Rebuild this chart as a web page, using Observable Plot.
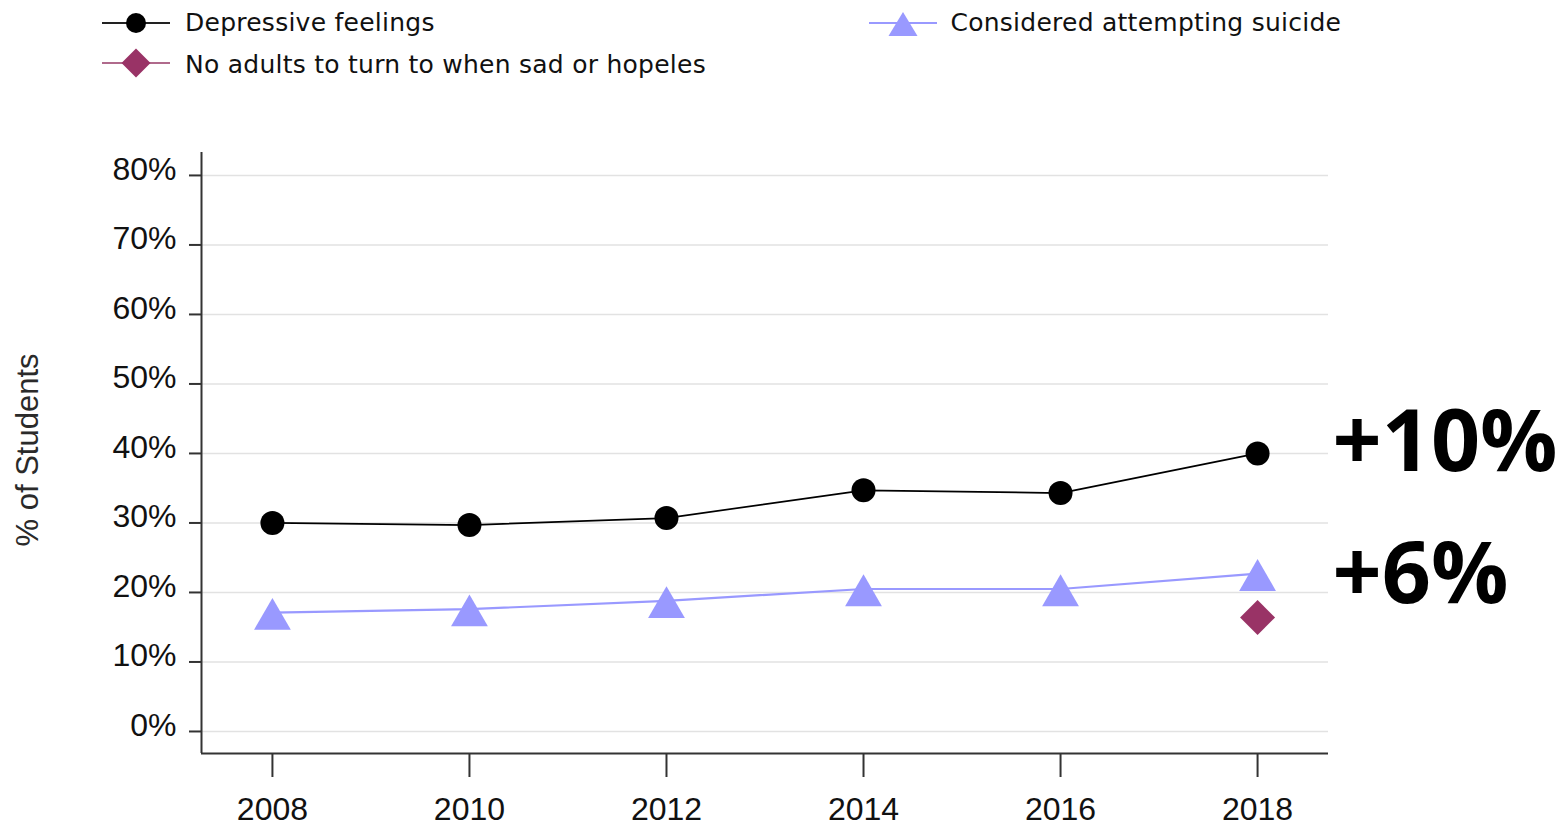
<!DOCTYPE html>
<html>
<head>
<meta charset="utf-8">
<script src="https://cdn.jsdelivr.net/npm/d3@7"></script>
<script src="https://cdn.jsdelivr.net/npm/@observablehq/plot@0.6"></script>
<style>
  html, body { margin: 0; padding: 0; background: #fff; overflow: hidden; }
  #legend { position: relative; width: 1566px; height: 100px; font-family: "DejaVu Sans", Verdana, sans-serif; font-size: 25px; letter-spacing: 0.25px; color: #111; }
  #legend .sym { position: absolute; }
  #legend .lab { position: absolute; line-height: 40px; height: 40px; white-space: nowrap; }
</style>
</head>
<body>
<div id="legend"></div>
<div id="chart"></div>
<script>
// ---- data ----
const years = [2008, 2010, 2012, 2014, 2016, 2018];
const depressive = [30.0, 29.7, 30.7, 34.7, 34.3, 40.0];
const suicide = [17.1, 17.6, 18.8, 20.5, 20.5, 22.7];
const noAdults = [null, null, null, null, null, 16.4];
const seriesNames = ["Depressive feelings", "No adults to turn to when sad or hopeles", "Considered attempting suicide"];
const changeLabels = ["+10%", "+6%"];
const yTicks = [0, 10, 20, 30, 40, 50, 60, 70, 80];
const xTicks = [2008, 2010, 2012, 2014, 2016, 2018];
const yAxisTitle = "% of Students";

// ---- styles ----
const colors = {dep: "#000000", sui: "#9999ff", noa: "#993366"};
const xDomain = [2007.28, 2018.72];
const yDomain = [-3.17, 83.3];

const triangleUp = {
  draw(ctx, size) {
    const r = Math.sqrt(size / Math.PI);
    const h = r * Math.sqrt(3);
    ctx.moveTo(0, -0.46 * h);
    ctx.lineTo(r, 0.54 * h);
    ctx.lineTo(-r, 0.54 * h);
    ctx.closePath();
  }
};
const diamondSq = {
  draw(ctx, size) {
    const r = Math.sqrt(size / Math.PI);
    ctx.moveTo(0, -r);
    ctx.lineTo(r, 0);
    ctx.lineTo(0, r);
    ctx.lineTo(-r, 0);
    ctx.closePath();
  }
};

// ---- legend ----
const legendItems = [
  {name: seriesNames[0], sym: "circle", color: colors.dep, line: "#222", left: 102, top: 3.3},
  {name: seriesNames[1], sym: "diamond", color: colors.noa, line: "#b06a8c", left: 102, top: 43.3},
  {name: seriesNames[2], sym: "triangle", color: colors.sui, line: colors.sui, left: 869, top: 2.7}
];
const legend = document.getElementById("legend");
const NS = "http://www.w3.org/2000/svg";
for (const it of legendItems) {
  const svg = document.createElementNS(NS, "svg");
  svg.setAttribute("width", 68); svg.setAttribute("height", 40);
  svg.setAttribute("class", "sym");
  svg.style.left = it.left + "px"; svg.style.top = it.top + "px";
  const ln = document.createElementNS(NS, "line");
  ln.setAttribute("x1", 0); ln.setAttribute("x2", 68); ln.setAttribute("y1", 20); ln.setAttribute("y2", 20);
  ln.setAttribute("stroke", it.line); ln.setAttribute("stroke-width", 2);
  svg.appendChild(ln);
  let shape;
  if (it.sym === "circle") {
    shape = document.createElementNS(NS, "circle");
    shape.setAttribute("cx", 34); shape.setAttribute("cy", 20); shape.setAttribute("r", 10);
  } else if (it.sym === "diamond") {
    shape = document.createElementNS(NS, "path");
    shape.setAttribute("d", "M34,5.5L48.5,20L34,34.5L19.5,20Z");
  } else {
    shape = document.createElementNS(NS, "path");
    shape.setAttribute("d", "M34,9L48.5,33L19.5,33Z");
  }
  shape.setAttribute("fill", it.color);
  svg.appendChild(shape);
  legend.appendChild(svg);
  const lab = document.createElement("div");
  lab.className = "lab";
  lab.textContent = it.name;
  lab.style.left = (it.left + (it.sym === "triangle" ? 81.5 : 83)) + "px";
  lab.style.top = (it.top + (it.sym === "diamond" ? 1.5 : 0)) + "px";
  legend.appendChild(lab);
}

// ---- chart ----
const depRows = years.map((yr, i) => ({year: yr, value: depressive[i]}));
const suiRows = years.map((yr, i) => ({year: yr, value: suicide[i]}));
const noaRows = years.map((yr, i) => ({year: yr, value: noAdults[i]})).filter(d => d.value != null);
const lastDep = [{year: years[years.length - 1], value: depressive[depressive.length - 1], label: changeLabels[0]}];
const lastSui = [{year: years[years.length - 1], value: suicide[suicide.length - 1], label: changeLabels[1]}];

const axisFont = "Liberation Sans, Arial, sans-serif";

const chart = Plot.plot({
  width: 1566,
  height: 723,
  marginTop: 52,
  marginBottom: 70,
  marginLeft: 201,
  marginRight: 238,
  style: {background: "white", fontFamily: axisFont},
  x: {domain: xDomain},
  y: {domain: yDomain},
  marks: [
    Plot.gridY(yTicks, {stroke: "#e2e2e2", strokeOpacity: 1, strokeWidth: 1.5}),
    Plot.axisY(yTicks, {tickSize: 12, tickFormat: () => "", stroke: "#333", strokeWidth: 2, label: null}),
    Plot.axisX(xTicks, {tickSize: 24, tickFormat: () => "", stroke: "#333", strokeWidth: 2, label: null}),
    Plot.ruleX([xDomain[0]], {stroke: "#333", strokeWidth: 2}),
    Plot.ruleY([yDomain[0]], {stroke: "#333", strokeWidth: 2}),
    Plot.text(yTicks, {frameAnchor: "left", y: d => d, text: d => d + "%", textAnchor: "end", lineAnchor: "middle", dx: -25, dy: -6, fontSize: 32, fontFamily: axisFont, fill: "#111"}),
    Plot.text(xTicks, {frameAnchor: "bottom", x: d => d, text: d => String(d), textAnchor: "middle", lineAnchor: "top", dy: 44, fontSize: 32, fontFamily: axisFont, fill: "#111"}),
    Plot.text([yAxisTitle], {frameAnchor: "left", text: d => d, rotate: -90, textAnchor: "middle", dx: -173, dy: -3, fontSize: 31, fontFamily: axisFont, fill: "#2a2a2a", lineAnchor: "middle"}),
    Plot.line(suiRows, {x: "year", y: "value", stroke: colors.sui, strokeWidth: 2.2}),
    Plot.line(depRows, {x: "year", y: "value", stroke: colors.dep, strokeWidth: 1.7}),
    Plot.dot(suiRows, {x: "year", y: "value", symbol: triangleUp, r: 18.4, fill: colors.sui, stroke: "none"}),
    Plot.dot(depRows, {x: "year", y: "value", symbol: "circle", r: 12, fill: colors.dep, stroke: "none"}),
    Plot.dot(noaRows, {x: "year", y: "value", symbol: diamondSq, r: 17.5, fill: colors.noa, stroke: "none"}),
    Plot.text(lastDep, {x: "year", y: "value", text: "label", textAnchor: "start", lineAnchor: "middle", dx: 75, dy: -10, fontSize: 86, fontWeight: 700, fontFamily: "Open Sans, Noto Sans, sans-serif", fill: "#000"}),
    Plot.text(lastSui, {x: "year", y: "value", text: "label", textAnchor: "start", lineAnchor: "middle", dx: 75, dy: 2, fontSize: 86, fontWeight: 700, fontFamily: "Open Sans, Noto Sans, sans-serif", fill: "#000"})
  ]
});
document.getElementById("chart").appendChild(chart);
</script>
</body>
</html>
